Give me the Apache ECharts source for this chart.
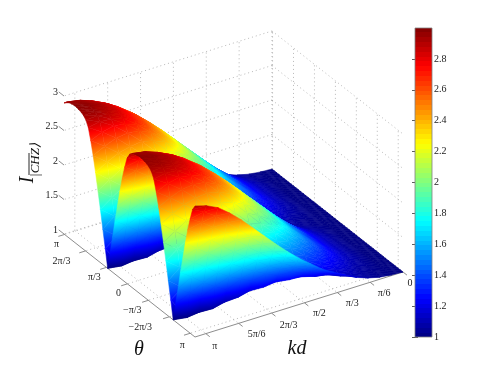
<!DOCTYPE html>
<html>
<head>
<meta charset="utf-8">
<style>
  html, body { margin: 0; padding: 0; background: #fff; }
  #chart { width: 491px; height: 380px; filter: blur(0.35px); }
</style>
<script src="https://cdn.jsdelivr.net/npm/echarts@6/dist/echarts.min.js"></script>
</head>
<body>
<div id="chart"></div>
<script>
  // tick values and labels
  const kdMax = 3.314
  const thetaMax = 3.17
  const thetaMin = -3.38
  const kdTicks = [0, Math.PI / 6, Math.PI / 3, Math.PI / 2, 2 * Math.PI / 3, 5 * Math.PI / 6, Math.PI]
  const kdLabels = ['0', 'π/6', 'π/3', 'π/2', '2π/3', '5π/6', 'π']
  const thetaTicks = [Math.PI, 2 * Math.PI / 3, Math.PI / 3, 0, -Math.PI / 3, -2 * Math.PI / 3, -Math.PI]
  const thetaLabels = ['π', '2π/3', 'π/3', '0', '−π/3', '−2π/3', 'π']
  const zTicks = [1, 1.5, 2, 2.5, 3]
  const zLabels = ['1', '1.5', '2', '2.5', '3']

  // surface heights: 19 rows from kd = kdMax down to 0,
  // 55 columns from thetaMax down to thetaMin
  const intensity = [
    [2.90,2.94,2.96,2.97,2.98,2.98,2.97,2.96,2.94,2.90,2.82,2.66,2.47,2.25,2.01,1.77,1.51,1.26,
     1.00,1.26,1.51,1.77,2.01,2.25,2.47,2.66,2.82,2.90,2.94,2.96,2.97,2.98,2.98,2.97,2.96,2.94,2.90,2.82,2.66,2.47,2.25,2.01,1.77,1.51,1.26,
     1.00,1.26,1.51,1.77,2.01,2.25,2.47,2.66,2.82,2.90],
    [2.85,2.91,2.94,2.95,2.96,2.97,2.96,2.95,2.94,2.91,2.85,2.73,2.55,2.35,2.12,1.89,1.65,1.39,1.01,
     1.01,1.39,1.65,1.89,2.12,2.35,2.55,2.73,2.85,2.91,2.94,2.95,2.96,2.97,2.96,2.95,2.94,2.91,2.85,2.73,2.55,2.35,2.12,1.89,1.65,1.39,1.01,
     1.01,1.39,1.65,1.89,2.12,2.35,2.55,2.73,2.85],
    [2.77,2.84,2.88,2.90,2.91,2.92,2.92,2.91,2.90,2.88,2.84,2.77,2.62,2.43,2.22,2.00,1.77,1.52,1.28,
     1.03,1.28,1.52,1.77,2.00,2.22,2.43,2.62,2.77,2.84,2.88,2.90,2.91,2.92,2.92,2.91,2.90,2.88,2.84,2.77,2.62,2.43,2.22,2.00,1.77,1.52,1.28,
     1.03,1.28,1.52,1.77,2.00,2.22,2.43,2.62,2.77],
    [2.64,2.74,2.80,2.82,2.84,2.85,2.85,2.85,2.84,2.82,2.80,2.74,2.64,2.47,2.29,2.08,1.87,1.64,1.41,1.06,
     1.06,1.41,1.64,1.87,2.08,2.29,2.47,2.64,2.74,2.80,2.82,2.84,2.85,2.85,2.85,2.84,2.82,2.80,2.74,2.64,2.47,2.29,2.08,1.87,1.64,1.41,1.06,
     1.06,1.41,1.64,1.87,2.08,2.29,2.47,2.64],
    [2.49,2.62,2.68,2.72,2.73,2.74,2.75,2.75,2.74,2.73,2.72,2.68,2.62,2.49,2.32,2.14,1.94,1.74,1.53,1.31,
     1.10,1.31,1.53,1.74,1.94,2.14,2.32,2.49,2.62,2.68,2.72,2.73,2.74,2.75,2.75,2.74,2.73,2.72,2.68,2.62,2.49,2.32,2.14,1.94,1.74,1.53,1.31,
     1.10,1.31,1.53,1.74,1.94,2.14,2.32,2.49],
    [2.32,2.45,2.54,2.59,2.61,2.62,2.63,2.63,2.63,2.62,2.61,2.59,2.54,2.45,2.32,2.16,1.99,1.82,1.63,1.44,1.15,
     1.15,1.44,1.63,1.82,1.99,2.16,2.32,2.45,2.54,2.59,2.61,2.62,2.63,2.63,2.63,2.62,2.61,2.59,2.54,2.45,2.32,2.16,1.99,1.82,1.63,1.44,1.15,
     1.15,1.44,1.63,1.82,1.99,2.16,2.32],
    [2.15,2.28,2.38,2.43,2.46,2.47,2.48,2.49,2.49,2.48,2.47,2.46,2.43,2.38,2.28,2.15,2.01,1.85,1.70,1.53,1.36,
     1.19,1.36,1.53,1.70,1.85,2.01,2.15,2.28,2.38,2.43,2.46,2.47,2.48,2.49,2.49,2.48,2.47,2.46,2.43,2.38,2.28,2.15,2.01,1.85,1.70,1.53,1.36,
     1.19,1.36,1.53,1.70,1.85,2.01,2.15],
    [1.98,2.10,2.20,2.26,2.30,2.31,2.32,2.33,2.33,2.33,2.32,2.31,2.30,2.26,2.20,2.10,1.98,1.85,1.72,1.58,1.44,1.22,
     1.22,1.44,1.58,1.72,1.85,1.98,2.10,2.20,2.26,2.30,2.31,2.32,2.33,2.33,2.33,2.32,2.31,2.30,2.26,2.20,2.10,1.98,1.85,1.72,1.58,1.44,1.22,
     1.22,1.44,1.58,1.72,1.85,1.98],
    [1.82,1.92,2.01,2.09,2.12,2.14,2.15,2.16,2.16,2.16,2.16,2.15,2.14,2.12,2.09,2.01,1.92,1.82,1.71,1.60,1.48,1.36,
     1.24,1.36,1.48,1.60,1.71,1.82,1.92,2.01,2.09,2.12,2.14,2.15,2.16,2.16,2.16,2.16,2.15,2.14,2.12,2.09,2.01,1.92,1.82,1.71,1.60,1.48,1.36,
     1.24,1.36,1.48,1.60,1.71,1.82],
    [1.67,1.76,1.83,1.90,1.95,1.97,1.98,1.98,1.99,1.99,1.99,1.98,1.98,1.97,1.95,1.90,1.83,1.76,1.67,1.58,1.49,1.39,1.25,
     1.25,1.39,1.49,1.58,1.67,1.76,1.83,1.90,1.95,1.97,1.98,1.98,1.99,1.99,1.99,1.98,1.98,1.97,1.95,1.90,1.83,1.76,1.67,1.58,1.49,1.39,1.25,
     1.25,1.39,1.49,1.58,1.67],
    [1.54,1.61,1.67,1.73,1.77,1.80,1.81,1.81,1.82,1.82,1.82,1.82,1.81,1.81,1.80,1.77,1.73,1.67,1.61,1.54,1.47,1.39,1.32,
     1.24,1.32,1.39,1.47,1.54,1.61,1.67,1.73,1.77,1.80,1.81,1.81,1.82,1.82,1.82,1.82,1.81,1.81,1.80,1.77,1.73,1.67,1.61,1.54,1.47,1.39,1.32,
     1.24,1.32,1.39,1.47,1.54],
    [1.41,1.47,1.51,1.56,1.60,1.62,1.64,1.64,1.65,1.65,1.65,1.65,1.65,1.64,1.64,1.62,1.60,1.56,1.51,1.47,1.41,1.36,1.30,1.22,
     1.22,1.30,1.36,1.41,1.47,1.51,1.56,1.60,1.62,1.64,1.64,1.65,1.65,1.65,1.65,1.65,1.64,1.64,1.62,1.60,1.56,1.51,1.47,1.41,1.36,1.30,1.22,
     1.22,1.30,1.36,1.41],
    [1.31,1.35,1.38,1.42,1.45,1.47,1.48,1.49,1.49,1.49,1.50,1.50,1.49,1.49,1.49,1.48,1.47,1.45,1.42,1.38,1.35,1.31,1.27,1.23,
     1.19,1.23,1.27,1.31,1.35,1.38,1.42,1.45,1.47,1.48,1.49,1.49,1.49,1.50,1.50,1.49,1.49,1.49,1.48,1.47,1.45,1.42,1.38,1.35,1.31,1.27,1.23,
     1.19,1.23,1.27,1.31],
    [1.22,1.24,1.27,1.29,1.31,1.33,1.34,1.35,1.35,1.35,1.35,1.36,1.35,1.35,1.35,1.35,1.34,1.33,1.31,1.29,1.27,1.24,1.22,1.19,1.15,
     1.15,1.19,1.22,1.24,1.27,1.29,1.31,1.33,1.34,1.35,1.35,1.35,1.35,1.36,1.35,1.35,1.35,1.35,1.34,1.33,1.31,1.29,1.27,1.24,1.22,1.19,1.15,
     1.15,1.19,1.22],
    [1.13,1.15,1.17,1.18,1.20,1.21,1.22,1.22,1.23,1.23,1.23,1.23,1.23,1.23,1.23,1.23,1.22,1.22,1.21,1.20,1.18,1.17,1.15,1.13,1.12,
     1.10,1.12,1.13,1.15,1.17,1.18,1.20,1.21,1.22,1.22,1.23,1.23,1.23,1.23,1.23,1.23,1.23,1.23,1.22,1.22,1.21,1.20,1.18,1.17,1.15,1.13,1.12,
     1.10,1.12,1.13],
    [1.07,1.08,1.09,1.10,1.11,1.12,1.12,1.13,1.13,1.13,1.13,1.13,1.13,1.13,1.13,1.13,1.13,1.12,1.12,1.11,1.10,1.09,1.08,1.07,1.06,1.06,
     1.06,1.07,1.08,1.09,1.10,1.11,1.12,1.12,1.13,1.13,1.13,1.13,1.13,1.13,1.13,1.13,1.13,1.13,1.12,1.12,1.11,1.10,1.09,1.08,1.07,1.06,1.06,
     1.06,1.07],
    [1.03,1.04,1.04,1.05,1.05,1.05,1.06,1.06,1.06,1.06,1.06,1.06,1.06,1.06,1.06,1.06,1.06,1.06,1.06,1.05,1.05,1.05,1.04,1.04,1.03,1.03,
     1.03,1.03,1.04,1.04,1.05,1.05,1.05,1.06,1.06,1.06,1.06,1.06,1.06,1.06,1.06,1.06,1.06,1.06,1.06,1.06,1.05,1.05,1.05,1.04,1.04,1.03,1.03,
     1.03,1.03],
    [1.01,1.01,1.01,1.01,1.01,1.01,1.01,1.01,1.01,1.01,1.01,1.01,1.01,1.01,1.01,1.01,1.01,1.01,1.01,1.01,1.01,1.01,1.01,1.01,1.01,1.01,1.01,
     1.01,1.01,1.01,1.01,1.01,1.01,1.01,1.01,1.01,1.01,1.01,1.01,1.01,1.01,1.01,1.01,1.01,1.01,1.01,1.01,1.01,1.01,1.01,1.01,1.01,1.01,1.01,1.01],
    [1,1,1,1,1,1,1,1,1,1,1,1,1,1,1,1,1,1,1,1,1,1,1,1,1,1,1,1,1,1,1,1,1,1,1,1,1,1,1,1,1,1,1,1,1,1,1,1,1,1,1,1,1,1,1]
  ]

  // where the box sits on the page: corner A (thetaMax, kdMax), B (thetaMin, kdMax), C (thetaMin, 0)
  const boxA = [64, 234]
  const boxB = [195, 337]
  const boxC = [403, 272]
  const zScale = 69
  const zMin = 1
  const zMax = 3
  const levels = 64

  const project = (kd, theta, z) => {
    const s = 1 - kd / kdMax
    const t = (thetaMax - theta) / (thetaMax - thetaMin)
    return [
      boxA[0] + s * (boxC[0] - boxB[0]) + t * (boxB[0] - boxA[0]),
      boxA[1] + s * (boxC[1] - boxB[1]) + t * (boxB[1] - boxA[1]) - (z - zMin) * zScale,
    ]
  }

  const jet = (v) => {
    const c = (x) => Math.round(255 * Math.max(0, Math.min(1, x)))
    return 'rgb(' + c(Math.min(4 * v - 1.5, -4 * v + 4.5)) + ',' + c(Math.min(4 * v - 0.5, -4 * v + 3.5)) + ',' + c(Math.min(4 * v + 0.5, -4 * v + 2.5)) + ')'
  }
  const heightColor = (z) => jet((z - zMin) / (zMax - zMin))
  const levelOf = (v) => Math.max(0, Math.min(levels - 1, Math.floor((v - zMin) / (zMax - zMin) * levels)))

  // colorbar stops, one flat band per level
  const bandStops = () => {
    const stops = []
    for (let l = 0; l < levels; l++) {
      const color = jet((l + 0.5) / levels)
      stops.push({ offset: l / levels, color: color })
      stops.push({ offset: (l + 1) / levels, color: color })
    }
    return stops
  }

  // surface stops, continuous between two heights
  const smoothStops = (lo, hi) => {
    const n = Math.max(1, levelOf(hi) - levelOf(lo) + 1)
    const stops = []
    for (let k = 0; k <= n; k++) {
      stops.push({ offset: k / n, color: heightColor(lo + (hi - lo) * k / n) })
    }
    return stops
  }

  // a triangle is shaded by a linear gradient running along its height slope
  const triangleFill = (p, v) => {
    const lo = Math.min(v[0], v[1], v[2])
    const hi = Math.max(v[0], v[1], v[2])
    const dx1 = p[1][0] - p[0][0]
    const dy1 = p[1][1] - p[0][1]
    const dx2 = p[2][0] - p[0][0]
    const dy2 = p[2][1] - p[0][1]
    const det = dx1 * dy2 - dx2 * dy1
    if (Math.abs(det) < 0.01 || hi - lo < 0.002) return heightColor((lo + hi) / 2)
    const dv1 = v[1] - v[0]
    const dv2 = v[2] - v[0]
    const gx = (dv1 * dy2 - dv2 * dy1) / det
    const gy = (dx1 * dv2 - dx2 * dv1) / det
    const g2 = gx * gx + gy * gy
    const start = p[v.indexOf(lo)]
    return {
      type: 'linear',
      global: true,
      x: start[0],
      y: start[1],
      x2: start[0] + gx / g2 * (hi - lo),
      y2: start[1] + gy / g2 * (hi - lo),
      colorStops: smoothStops(lo, hi),
    }
  }

  const rowCount = intensity.length
  const colCount = intensity[0].length
  const kdAt = (i) => kdMax * (1 - i / (rowCount - 1))
  const thetaAt = (j) => thetaMax - (thetaMax - thetaMin) * j / (colCount - 1)

  // far cells first so nearer ones paint over them
  const cells = []
  for (let i = rowCount - 2; i >= 0; i--) {
    for (let j = 0; j < colCount - 1; j++) cells.push([i, j])
  }

  const surfaceItem = (params, api) => {
    const i = api.value(0)
    const j = api.value(1)
    const corner = (r, c) => {
      const q = project(kdAt(r), thetaAt(c), intensity[r][c])
      return { p: api.coord(q), v: intensity[r][c] }
    }
    const a = corner(i, j)
    const b = corner(i + 1, j)
    const c = corner(i + 1, j + 1)
    const d = corner(i, j + 1)
    const tri = (x, y, z) => {
      const pts = [x.p, y.p, z.p]
      const fill = triangleFill(pts, [x.v, y.v, z.v])
      return {
        type: 'polygon',
        shape: { points: pts },
        style: { fill: fill, stroke: fill, lineWidth: 0.5, lineJoin: 'round' },
      }
    }
    return { type: 'group', children: [tri(a, b, c), tri(a, c, d)] }
  }

  // box lines: [from, to, dotted]
  const boxLines = []
  const dotted = (a, b) => boxLines.push([a, b, true])
  const solid = (a, b) => boxLines.push([a, b, false])
  kdTicks.forEach((kd) => {
    dotted([kd, thetaMax, zMin], [kd, thetaMin, zMin])
    dotted([kd, thetaMax, zMin], [kd, thetaMax, zMax])
    solid([kd, thetaMin, zMin], [kd, thetaMin - 0.03 * (thetaMax - thetaMin), zMin])
  })
  thetaTicks.forEach((theta) => {
    dotted([0, theta, zMin], [kdMax, theta, zMin])
    dotted([0, theta, zMin], [0, theta, zMax])
    solid([kdMax, theta, zMin], [kdMax * 1.03, theta, zMin])
  })
  zTicks.forEach((z) => {
    dotted([0, thetaMax, z], [kdMax, thetaMax, z])
    dotted([0, thetaMax, z], [0, thetaMin, z])
    solid([kdMax, thetaMax, z], [kdMax, thetaMax + 0.04 * (thetaMax - thetaMin), z])
  })
  solid([kdMax, thetaMax, zMin], [kdMax, thetaMin, zMin])
  solid([kdMax, thetaMin, zMin], [0, thetaMin, zMin])

  const boxItem = (params, api) => {
    const line = boxLines[api.value(0)]
    const a = api.coord(project(line[0][0], line[0][1], line[0][2]))
    const b = api.coord(project(line[1][0], line[1][1], line[1][2]))
    return {
      type: 'line',
      shape: { x1: a[0], y1: a[1], x2: b[0], y2: b[1] },
      style: line[2]
        ? { stroke: '#999', lineWidth: 0.7, lineDash: [1, 3] }
        : { stroke: '#808080', lineWidth: 0.9 },
    }
  }

  // tick labels sit at a small offset from their tick
  const tickFont = '10px "Liberation Serif"'
  const thetaOffsets = [[-8, 10], [-24, 10.5], [-12, 10], [-9, 9.5], [-16, 10], [-29, 10.5], [-8, 12]]
  const kdOffsets = [[7, 11], [14, 11], [15, 11], [15, 11], [17, 12], [18, 11.5], [9, 13]]
  const texts = []
  thetaTicks.forEach((theta, n) => {
    texts.push({ at: [kdMax, theta, zMin], off: thetaOffsets[n], text: thetaLabels[n], font: tickFont })
  })
  kdTicks.forEach((kd, n) => {
    texts.push({ at: [kd, thetaMin, zMin], off: kdOffsets[n], text: kdLabels[n], font: tickFont })
  })
  zTicks.forEach((z, n) => {
    texts.push({ at: [kdMax, thetaMax, z], off: [-6, -4], text: zLabels[n], font: tickFont, align: 'right' })
  })

  const textItem = (params, api) => {
    const t = texts[api.value(0)]
    const q = api.coord(project(t.at[0], t.at[1], t.at[2]))
    return {
      type: 'text',
      x: q[0] + t.off[0],
      y: q[1] + t.off[1],
      style: { text: t.text, font: t.font, fill: '#1a1a1a', align: t.align || 'center', verticalAlign: 'middle' },
    }
  }

  const colorbarItem = (params, api) => {
    const top = api.coord([0, zMax])
    const bottom = api.coord([1, zMin])
    return {
      type: 'rect',
      shape: { x: top[0], y: top[1], width: bottom[0] - top[0], height: bottom[1] - top[1] },
      style: {
        fill: {
          type: 'linear',
          x: 0, y: 1, x2: 0, y2: 0,
          colorStops: bandStops(),
        },
        stroke: '#808080',
        lineWidth: 0.8,
      },
    }
  }

  const axisTitle = (text, left, top, font, rotation) => ({
    type: 'text',
    x: left,
    y: top,
    rotation: rotation || 0,
    style: { text: text, font: font, fill: '#111', align: 'center', verticalAlign: 'middle' },
  })

  const options = {
    animation: false,
    grid: [
      { left: 0, right: 0, top: 0, bottom: 0 },
      { left: 415, width: 17, top: 28, height: 309 },
    ],
    xAxis: [
      { gridIndex: 0, type: 'value', min: 0, max: 491, show: false },
      { gridIndex: 1, type: 'value', min: 0, max: 1, show: false },
    ],
    yAxis: [
      { gridIndex: 0, type: 'value', min: 0, max: 380, inverse: true, show: false },
      {
        gridIndex: 1,
        type: 'value',
        position: 'right',
        min: zMin,
        max: zMax,
        interval: 0.2,
        splitLine: { show: false },
        axisLine: { show: false },
        axisTick: { inside: true, length: 3, lineStyle: { color: '#333', width: 0.8 } },
        axisLabel: { showMaxLabel: false, margin: 2, color: '#1a1a1a', fontFamily: 'Liberation Serif', fontSize: 10 },
      },
      {
        gridIndex: 1,
        type: 'value',
        position: 'left',
        min: zMin,
        max: zMax,
        interval: 0.2,
        splitLine: { show: false },
        axisLine: { show: false },
        axisTick: { inside: true, length: 3, lineStyle: { color: '#333', width: 0.8 } },
        axisLabel: { show: false },
      },
    ],
    graphic: {
      elements: [
        axisTitle('θ', 139, 350, 'italic 20px "Liberation Serif"'),
        axisTitle('kd', 297, 349, 'italic 20px "Liberation Serif"'),
        axisTitle('I', 28, 180, 'italic 20px "Liberation Serif"', Math.PI / 2),
        axisTitle('|CHZ⟩', 36, 160, 'italic 13px "Liberation Serif"', Math.PI / 2),
        { type: 'line', shape: { x1: 29, y1: 153, x2: 29, y2: 175 }, style: { stroke: '#111', lineWidth: 0.9 } },
      ],
    },
    series: [
      {
        type: 'custom',
        xAxisIndex: 0,
        yAxisIndex: 0,
        renderItem: boxItem,
        data: boxLines.map((l, n) => [n, 0]),
        silent: true,
      },
      {
        type: 'custom',
        xAxisIndex: 0,
        yAxisIndex: 0,
        renderItem: surfaceItem,
        data: cells,
        progressive: 0,
        silent: true,
      },
      {
        type: 'custom',
        xAxisIndex: 0,
        yAxisIndex: 0,
        renderItem: textItem,
        data: texts.map((t, n) => [n, 0]),
        silent: true,
      },
      {
        type: 'custom',
        xAxisIndex: 1,
        yAxisIndex: 1,
        renderItem: colorbarItem,
        data: [[0, 1]],
        silent: true,
      },
    ],
  }

  const chart = echarts.init(document.getElementById('chart'), null, { renderer: 'canvas' })
  chart.setOption(options)
</script>
</body>
</html>
